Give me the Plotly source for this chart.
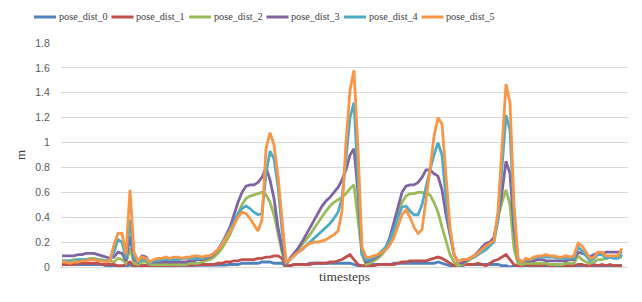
import plotly.graph_objects as go

# timestep index (category positions)
timesteps = list(range(141))

pose_dist_0 = [0.02,0.02,0.02,0.02,0.02,0.02,0.02,0.02,0.02,0.02,0.02,0.01,0.01,0.01,0.00,0.00,0.00,0.02,0.00,0.01,
               0.01,0.01,0.01,0.01,0.01,0.01,0.01,0.01,0.01,0.01,0.01,0.01,0.01,0.01,0.01,0.01,0.01,0.01,0.01,0.01,
               0.01,0.015,0.02,0.02,0.02,0.03,0.03,0.03,0.03,0.03,0.04,0.04,0.04,0.03,0.03,0.03,0.00,0.01,0.02,0.02,
               0.02,0.02,0.03,0.03,0.03,0.03,0.03,0.03,0.03,0.03,0.03,0.03,0.03,0.02,0.01,0.00,0.01,0.02,0.02,0.02,
               0.02,0.02,0.02,0.03,0.03,0.03,0.03,0.03,0.03,0.03,0.03,0.03,0.03,0.03,0.04,0.03,0.02,0.01,0.00,0.01,
               0.01,0.02,0.02,0.02,0.02,0.02,0.02,0.02,0.02,0.02,0.01,0.01,0.00,0.01,0.00,0.01,0.01,0.01,0.01,0.01,
               0.01,0.01,0.01,0.01,0.01,0.01,0.01,0.01,0.01,0.01,0.01,0.01,0.00,0.01,0.01,0.01,0.01,0.01,0.01,0.01,
               0.01]

pose_dist_1 = [0.02,0.02,0.02,0.02,0.03,0.03,0.03,0.03,0.03,0.03,0.02,0.02,0.02,0.02,0.01,0.01,0.02,0.04,0.01,0.01,
               0.01,0.01,0.01,0.01,0.01,0.01,0.01,0.01,0.01,0.01,0.01,0.015,0.015,0.015,0.02,0.02,0.02,0.02,0.02,0.03,
               0.03,0.04,0.04,0.05,0.05,0.06,0.06,0.06,0.06,0.07,0.07,0.08,0.08,0.09,0.09,0.07,0.01,0.01,0.02,0.02,
               0.02,0.02,0.02,0.03,0.03,0.03,0.03,0.04,0.04,0.05,0.06,0.08,0.10,0.06,0.02,0.01,0.01,0.01,0.01,0.02,
               0.02,0.02,0.02,0.02,0.03,0.04,0.04,0.05,0.05,0.05,0.05,0.05,0.06,0.07,0.08,0.07,0.05,0.03,0.01,0.01,
               0.02,0.02,0.02,0.02,0.03,0.02,0.01,0.03,0.05,0.06,0.08,0.10,0.06,0.02,0.01,0.01,0.02,0.01,0.02,0.01,
               0.01,0.02,0.01,0.01,0.02,0.01,0.01,0.01,0.01,0.02,0.02,0.01,0.01,0.02,0.01,0.02,0.01,0.02,0.01,0.01,
               0.01]

pose_dist_2 = [0.05,0.05,0.05,0.06,0.06,0.06,0.06,0.07,0.07,0.06,0.06,0.05,0.05,0.04,0.07,0.06,0.03,0.15,0.03,0.02,
               0.04,0.04,0.02,0.02,0.02,0.02,0.02,0.02,0.02,0.02,0.02,0.02,0.03,0.03,0.03,0.04,0.05,0.06,0.08,0.11,
               0.15,0.20,0.26,0.34,0.43,0.50,0.55,0.57,0.58,0.59,0.60,0.58,0.52,0.42,0.26,0.12,0.02,0.06,0.10,0.14,
               0.18,0.22,0.26,0.31,0.36,0.41,0.45,0.49,0.52,0.54,0.56,0.59,0.63,0.66,0.40,0.10,0.02,0.03,0.05,0.07,
               0.10,0.14,0.20,0.30,0.42,0.52,0.57,0.59,0.59,0.60,0.60,0.59,0.58,0.52,0.44,0.32,0.20,0.10,0.04,0.01,
               0.02,0.04,0.06,0.08,0.10,0.13,0.15,0.17,0.22,0.40,0.52,0.62,0.50,0.15,0.03,0.02,0.03,0.03,0.03,0.03,
               0.03,0.03,0.02,0.02,0.02,0.02,0.03,0.03,0.03,0.09,0.06,0.04,0.03,0.04,0.06,0.06,0.07,0.08,0.08,0.08,
               0.08]

pose_dist_3 = [0.09,0.09,0.09,0.09,0.10,0.10,0.11,0.11,0.11,0.10,0.09,0.08,0.07,0.08,0.12,0.11,0.05,0.25,0.06,0.04,
               0.09,0.08,0.03,0.04,0.04,0.04,0.04,0.04,0.04,0.04,0.04,0.04,0.05,0.05,0.06,0.06,0.07,0.08,0.10,0.14,
               0.19,0.25,0.32,0.42,0.52,0.60,0.65,0.66,0.66,0.68,0.72,0.80,0.70,0.55,0.32,0.15,0.02,0.07,0.11,0.15,
               0.20,0.26,0.32,0.38,0.44,0.49,0.53,0.56,0.60,0.64,0.70,0.78,0.90,0.95,0.60,0.12,0.04,0.05,0.07,0.09,
               0.12,0.16,0.24,0.36,0.50,0.60,0.65,0.66,0.66,0.68,0.72,0.78,0.78,0.75,0.73,0.62,0.42,0.25,0.10,0.04,
               0.03,0.05,0.07,0.09,0.12,0.16,0.19,0.20,0.24,0.40,0.60,0.85,0.75,0.30,0.06,0.04,0.05,0.05,0.05,0.06,
               0.06,0.05,0.05,0.05,0.05,0.05,0.05,0.06,0.06,0.12,0.11,0.10,0.08,0.10,0.11,0.10,0.12,0.12,0.12,0.12,
               0.12]

pose_dist_4 = [0.05,0.05,0.05,0.05,0.06,0.06,0.06,0.06,0.06,0.06,0.05,0.05,0.05,0.12,0.22,0.20,0.07,0.38,0.08,0.04,
               0.06,0.06,0.03,0.05,0.05,0.06,0.06,0.06,0.06,0.06,0.07,0.07,0.07,0.07,0.07,0.07,0.08,0.09,0.11,0.14,
               0.19,0.24,0.30,0.36,0.43,0.47,0.49,0.47,0.44,0.42,0.43,0.75,0.93,0.87,0.65,0.30,0.03,0.06,0.09,0.12,
               0.14,0.17,0.20,0.23,0.26,0.29,0.32,0.35,0.39,0.44,0.55,0.90,1.20,1.32,0.75,0.10,0.06,0.06,0.08,0.10,
               0.13,0.16,0.22,0.30,0.40,0.48,0.49,0.45,0.42,0.42,0.50,0.65,0.78,0.90,1.00,0.90,0.55,0.28,0.10,0.04,
               0.06,0.06,0.07,0.08,0.10,0.12,0.14,0.17,0.20,0.38,0.80,1.22,1.10,0.40,0.06,0.04,0.06,0.06,0.07,0.08,
               0.08,0.08,0.08,0.08,0.07,0.07,0.07,0.07,0.07,0.16,0.13,0.09,0.05,0.07,0.10,0.10,0.07,0.08,0.07,0.07,
               0.10]

pose_dist_5 = [0.04,0.04,0.03,0.04,0.04,0.05,0.05,0.06,0.06,0.05,0.05,0.04,0.05,0.18,0.27,0.27,0.10,0.62,0.12,0.05,
               0.08,0.07,0.04,0.06,0.07,0.07,0.08,0.07,0.08,0.08,0.07,0.08,0.08,0.09,0.09,0.08,0.09,0.09,0.11,0.14,
               0.18,0.23,0.28,0.34,0.40,0.44,0.43,0.39,0.34,0.29,0.38,0.95,1.08,0.98,0.73,0.35,0.04,0.06,0.09,0.12,
               0.14,0.17,0.19,0.20,0.20,0.21,0.22,0.24,0.26,0.29,0.45,1.00,1.42,1.58,0.95,0.16,0.08,0.08,0.09,0.10,
               0.12,0.14,0.18,0.24,0.33,0.42,0.46,0.40,0.32,0.27,0.30,0.52,0.78,1.05,1.20,1.15,0.70,0.32,0.10,0.04,
               0.06,0.06,0.07,0.09,0.11,0.14,0.17,0.19,0.21,0.45,0.95,1.47,1.32,0.50,0.07,0.04,0.07,0.06,0.08,0.09,
               0.09,0.10,0.09,0.09,0.08,0.08,0.09,0.08,0.09,0.19,0.17,0.12,0.07,0.08,0.12,0.12,0.09,0.09,0.09,0.09,
               0.15]

series_names = ["pose_dist_0", "pose_dist_1", "pose_dist_2", "pose_dist_3", "pose_dist_4", "pose_dist_5"]
series_values = [pose_dist_0, pose_dist_1, pose_dist_2, pose_dist_3, pose_dist_4, pose_dist_5]
colors = ["#4F81BD", "#C0504D", "#9BBB59", "#8064A2", "#4BACC6", "#F79646"]

# layout geometry (pixels)
W, H = 642, 302
ML, MR, MT, MB = 61, 14, 43, 35
PW, PH = W - ML - MR, H - MT - MB

def px_x(px):
    return (px - ML) / PW

def px_y(py):
    return (H - MB - py) / PH

serif = "Liberation Serif"

fig = go.Figure()
for name, vals, col in zip(series_names, series_values, colors):
    fig.add_trace(go.Scatter(x=timesteps, y=vals, name=name, mode="lines",
                             line=dict(color=col, width=2.8), showlegend=False))

# custom legend in one row (Excel-style compact entries)
leg_y = 17
leg_x0 = 34
leg_step = 77.5
shapes, annotations = [], []
for i, (name, col) in enumerate(zip(series_names, colors)):
    x0 = leg_x0 + i * leg_step
    shapes.append(dict(type="line", xref="paper", yref="paper",
                       x0=px_x(x0), x1=px_x(x0 + 22), y0=px_y(leg_y), y1=px_y(leg_y),
                       line=dict(color=col, width=3)))
    annotations.append(dict(text=name, xref="paper", yref="paper", x=px_x(x0 + 22.5),
                            y=px_y(leg_y), xanchor="left", yanchor="middle", showarrow=False,
                            font=dict(family=serif, size=10.2, color="#404040")))

fig.update_layout(
    width=W, height=H,
    margin=dict(l=ML, r=MR, t=MT, b=MB, autoexpand=False),
    paper_bgcolor="white", plot_bgcolor="white",
    font=dict(family=serif, color="#404040"),
    showlegend=False,
    shapes=shapes, annotations=annotations,
    xaxis=dict(range=[-0.25, 141.5], showticklabels=False, ticks="", showgrid=False,
               zeroline=False, showline=True, linecolor="#D9D9D9", linewidth=1,
               automargin=False,
               title=dict(text="timesteps", font=dict(family=serif, size=13.5, color="#404040"),
                          standoff=4)),
    yaxis=dict(range=[0, 1.8], dtick=0.2, tick0=0, showgrid=True, gridcolor="#D9D9D9",
               gridwidth=1, zeroline=False, ticks="outside", ticklen=8,
               tickcolor="rgba(0,0,0,0)", automargin=False,
               tickfont=dict(family="Liberation Sans", size=10.5, color="#595959"),
               title=dict(text="m", font=dict(family=serif, size=13, color="#404040"), standoff=6)),
)

fig.write_html("out.html", config={"displayModeBar": False},
               post_script="document.body.style.margin='0';")
